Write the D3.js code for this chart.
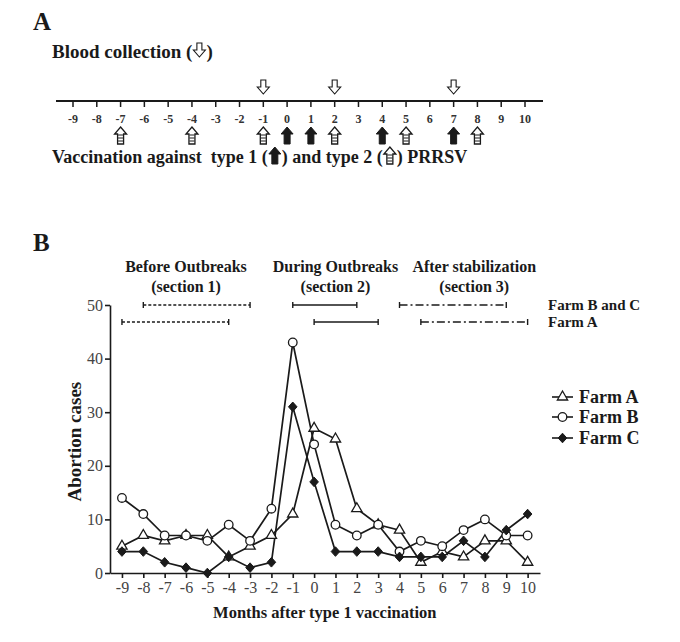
<!DOCTYPE html>
<html>
<head>
<meta charset="utf-8">
<script src="https://cdn.jsdelivr.net/npm/d3@7"></script>
<style>
  body { margin: 0; background: #fff; }
  svg { display: block; }
  svg text { font-family: "Liberation Serif", "DejaVu Serif", "Times New Roman", serif; }
</style>
</head>
<body>
<div id="chart"></div>
<script>
// panel A: timeline
const timelineMonths = d3.range(-9, 11);
const bloodCollection = [-1, 2, 7];
const type1Vaccination = [0, 1, 4, 7];
const type2Vaccination = [-7, -4, -1, 2, 5, 8];

// panel B: abortion cases
const months = d3.range(-9, 11);
const farmA = [5, 7, 6, 7, 7, 3, 5, 7, 11, 27, 25, 12, 9, 8, 2, 4, 3, 6, 6, 2];
const farmB = [14, 11, 7, 7, 6, 9, 6, 12, 43, 24, 9, 7, 9, 4, 6, 5, 8, 10, 7, 7];
const farmC = [4, 4, 2, 1, 0, 3, 1, 2, 31, 17, 4, 4, 4, 3, 3, 3, 6, 3, 8, 11];
const yTicks = [0, 10, 20, 30, 40, 50];

// sections (start / end month)
const sectionTitles = ["Before Outbreaks", "During Outbreaks", "After stabilization"];
const sectionSubtitles = ["(section 1)", "(section 2)", "(section 3)"];
const sectionCenters = [-6, 1, 7.5];
const sectionsBC = [[-8, -3], [-1, 2], [4, 9]];
const sectionsA = [[-9, -4], [0, 3], [5, 10]];
const sectionDash = ["3,2", null, "8,3,2,3"];

const width = 680, height = 642;
const ink = "#1a1a1a";
const fmt = d => String(d);   // plain hyphen minus like the original

const svg = d3.select("#chart").append("svg")
    .attr("width", width)
    .attr("height", height);

// ---------- arrow shapes ----------
function downArrow(g, cx, top) {
    // hollow arrow pointing down
    const p = [[-2.5, 0], [2.5, 0], [2.5, 7], [6, 7], [0, 14], [-6, 7], [-2.5, 7]];
    g.append("path")
        .attr("d", d3.line()(p.map(d => [cx + d[0], top + d[1]])) + "Z")
        .attr("fill", "#fff").attr("stroke", ink).attr("stroke-width", 1.1);
}
function upArrowFilled(g, cx, top) {
    const p = [[0, 0], [6, 7], [3, 7], [3, 17], [-3, 17], [-3, 7], [-6, 7]];
    g.append("path")
        .attr("d", d3.line()(p.map(d => [cx + d[0], top + d[1]])) + "Z")
        .attr("fill", ink).attr("stroke", ink).attr("stroke-width", 1);
}
function upArrowDouble(g, cx, top) {
    const p = [[0, 0], [6, 7], [3, 7], [3, 17], [-3, 17], [-3, 7], [-6, 7]];
    g.append("path")
        .attr("d", d3.line()(p.map(d => [cx + d[0], top + d[1]])) + "Z")
        .attr("fill", "#fff").attr("stroke", ink).attr("stroke-width", 1.3);
    [8, 11, 14].forEach(dy => {
        g.append("line")
            .attr("x1", cx - 2.5).attr("x2", cx + 2.5)
            .attr("y1", top + dy).attr("y2", top + dy)
            .attr("stroke", ink).attr("stroke-width", 1);
    });
}

// ---------- panel A ----------
svg.append("text").attr("x", 33).attr("y", 30)
    .attr("font-size", 25).attr("font-weight", "bold").attr("fill", ink).text("A");

// "Blood collection (⇩)"
const bc = svg.append("text").attr("x", 52).attr("y", 58)
    .attr("font-size", 19).attr("font-weight", "bold").attr("fill", ink)
    .text("Blood collection (");
let bcw = bc.node().getComputedTextLength();
downArrow(svg, 52 + bcw + 7, 43);
svg.append("text").attr("x", 52 + bcw + 14).attr("y", 58)
    .attr("font-size", 19).attr("font-weight", "bold").attr("fill", ink).text(")");

const xA = d3.scaleLinear().domain([-9, 10]).range([73, 525]);
const gA = svg.append("g");
gA.append("line")
    .attr("x1", 56).attr("x2", 543).attr("y1", 101).attr("y2", 101)
    .attr("stroke", ink).attr("stroke-width", 2);

gA.selectAll(".tick")
    .data(timelineMonths)
    .join("line")
    .attr("x1", d => xA(d)).attr("x2", d => xA(d))
    .attr("y1", 101).attr("y2", 107)
    .attr("stroke", ink).attr("stroke-width", 1.5);

gA.selectAll(".lab")
    .data(timelineMonths)
    .join("text")
    .attr("x", d => xA(d))
    .attr("y", 123)
    .attr("text-anchor", "middle")
    .attr("font-size", 12)
    .attr("font-weight", "bold")
    .attr("fill", "#333")
    .text(fmt);

bloodCollection.forEach(m => downArrow(gA, xA(m), 80));
type1Vaccination.forEach(m => upArrowFilled(gA, xA(m), 127));
type2Vaccination.forEach(m => upArrowDouble(gA, xA(m), 127));

// "Vaccination against  type 1 (⬆) and type 2 (⇧) PRRSV"
let vx = 52;
const vy = 163;
function vText(s) {
    const t = svg.append("text").attr("x", vx).attr("y", vy)
        .attr("font-size", 18).attr("font-weight", "bold").attr("fill", ink)
        .style("white-space", "pre")
        .text(s);
    vx += t.node().getComputedTextLength();
}
vText("Vaccination against  type 1 (");
upArrowFilled(svg, vx + 7, vy - 16);
vx += 14;
vText(") and type 2 (");
upArrowDouble(svg, vx + 7, vy - 16);
vx += 14;
vText(") PRRSV");

// ---------- panel B ----------
svg.append("text").attr("x", 33).attr("y", 251)
    .attr("font-size", 25).attr("font-weight", "bold").attr("fill", ink).text("B");

const x = d3.scaleLinear().domain([-9.56, 10.58]).range([110, 540]);
const y = d3.scaleLinear().domain([0, 50]).range([573, 305]);

// section titles
svg.append("g").selectAll("text")
    .data(sectionTitles)
    .join("text")
    .attr("x", (d, i) => x(sectionCenters[i]))
    .attr("y", 272)
    .attr("text-anchor", "middle")
    .attr("font-size", 16).attr("font-weight", "bold").attr("fill", ink)
    .text(d => d);
svg.append("g").selectAll("text")
    .data(sectionSubtitles)
    .join("text")
    .attr("x", (d, i) => x(sectionCenters[i]))
    .attr("y", 292)
    .attr("text-anchor", "middle")
    .attr("font-size", 16).attr("font-weight", "bold").attr("fill", ink)
    .text(d => d);

function sectionRow(data, yy, label) {
    const g = svg.append("g");
    g.selectAll(".seg").data(data).join("line")
        .attr("x1", d => x(d[0])).attr("x2", d => x(d[1]))
        .attr("y1", yy).attr("y2", yy)
        .attr("stroke", ink).attr("stroke-width", 1.4)
        .attr("stroke-dasharray", (d, i) => sectionDash[i]);
    data.forEach(d => {
        d.forEach(m => {
            g.append("line")
                .attr("x1", x(m)).attr("x2", x(m))
                .attr("y1", yy - 3).attr("y2", yy + 3)
                .attr("stroke", ink).attr("stroke-width", 1.4);
        });
    });
    g.append("text").attr("x", 548).attr("y", yy + 5)
        .attr("font-size", 15).attr("font-weight", "bold").attr("fill", ink)
        .text(label);
}
sectionRow(sectionsBC, 305, "Farm B and C");
sectionRow(sectionsA, 322, "Farm A");

// axes
const xAxis = svg.append("g")
    .attr("transform", "translate(0,573)")
    .call(d3.axisBottom(x).tickValues(months).tickFormat(fmt)
        .tickSize(5).tickSizeOuter(0).tickPadding(4));
const yAxis = svg.append("g")
    .attr("transform", "translate(110,0)")
    .call(d3.axisLeft(y).tickValues(yTicks).tickFormat(fmt)
        .tickSize(5).tickSizeOuter(0).tickPadding(2));
[xAxis, yAxis].forEach(a => {
    a.attr("font-family", null).attr("font-size", 16);
    a.selectAll("path, line").attr("stroke", ink).attr("stroke-width", 1.6);
    a.selectAll("text").attr("fill", "#444");
});

svg.append("text")
    .attr("x", x(0.5)).attr("y", 618)
    .attr("text-anchor", "middle")
    .attr("font-size", 16.5).attr("font-weight", "bold").attr("fill", ink)
    .text("Months after type 1 vaccination");
svg.append("text")
    .attr("transform", `translate(81,${y(24.5)}) rotate(-90)`)
    .attr("text-anchor", "middle")
    .attr("font-size", 19).attr("font-weight", "bold").attr("fill", ink)
    .text("Abortion cases");

// series
const series = [
    { name: "Farm A", values: farmA, marker: "triangle" },
    { name: "Farm B", values: farmB, marker: "circle" },
    { name: "Farm C", values: farmC, marker: "diamond" }
];
const line = d3.line().x((d, i) => x(months[i])).y(d => y(d));

function drawMarker(g, type, cx, cy) {
    if (type === "circle") {
        g.append("circle").attr("cx", cx).attr("cy", cy).attr("r", 4.3)
            .attr("fill", "#fff").attr("stroke", ink).attr("stroke-width", 1.3);
    } else if (type === "triangle") {
        g.append("path")
            .attr("d", d3.symbol(d3.symbolTriangle, 46)())
            .attr("transform", `translate(${cx},${cy})`)
            .attr("fill", "#fff").attr("stroke", ink).attr("stroke-width", 1.3);
    } else {
        g.append("path")
            .attr("d", `M0,-4.8L4.3,0L0,4.8L-4.3,0Z`)
            .attr("transform", `translate(${cx},${cy})`)
            .attr("fill", ink).attr("stroke", ink).attr("stroke-width", 1);
    }
}

const gLines = svg.append("g");
series.forEach(s => {
    gLines.append("path")
        .attr("d", line(s.values))
        .attr("fill", "none").attr("stroke", ink).attr("stroke-width", 1.7);
});
series.forEach(s => {
    s.values.forEach((v, i) => drawMarker(gLines, s.marker, x(months[i]), y(v)));
});

// legend
const legendY = [397, 417, 438];
series.forEach((s, i) => {
    const g = svg.append("g");
    g.append("line").attr("x1", 552).attr("x2", 573)
        .attr("y1", legendY[i]).attr("y2", legendY[i])
        .attr("stroke", ink).attr("stroke-width", 1.6);
    drawMarker(g, s.marker, 562.5, legendY[i]);
    g.append("text").attr("x", 579).attr("y", legendY[i] + 6)
        .attr("font-size", 18).attr("font-weight", "bold").attr("fill", ink)
        .text(s.name);
});
</script>
</body>
</html>
